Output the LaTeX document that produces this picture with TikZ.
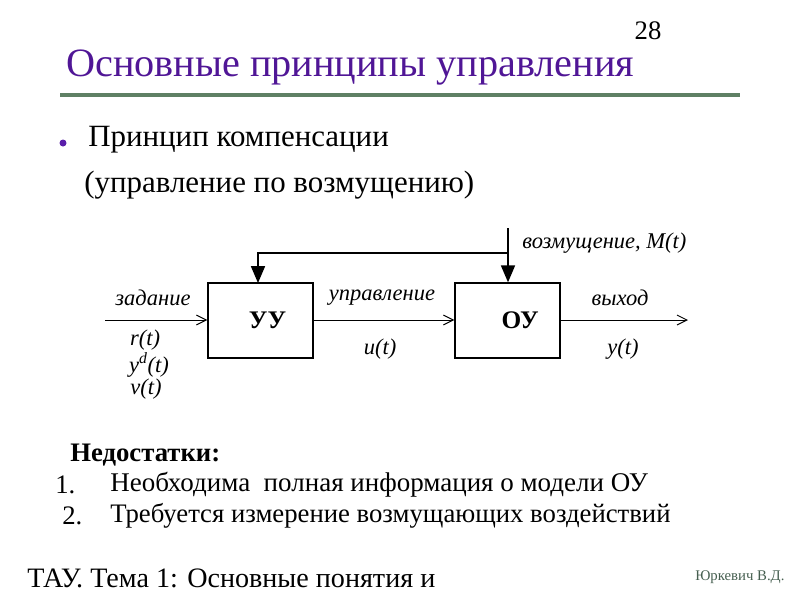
\documentclass[tikz,border=0pt]{standalone}
\usepackage{fontspec}
\setmainfont{Liberation Serif}
\usetikzlibrary{arrows.meta, positioning}
\definecolor{titlepurple}{RGB}{80,22,150}
\definecolor{rulegreen}{RGB}{95,128,100}
\definecolor{authorgray}{RGB}{70,95,80}
\definecolor{bulletpurple}{RGB}{90,30,170}
\tikzset{
  block/.style={
    rectangle, draw, line width=1pt, minimum width=2.625cm, minimum height=1.875cm,
    font=\bfseries\fontsize{18}{20}\selectfont
  },
  signal/.style={-{Straight Barb[length=7pt,width=7pt]}, line width=0.7pt},
  disturb/.style={-{Triangle[length=12pt,width=10pt]}, line width=0.9pt},
  siglabel/.style={font=\itshape\fontsize{16}{18}\selectfont, inner sep=0pt},
  bodytext/.style={font=\fontsize{22}{26}\selectfont, anchor=west, inner sep=0pt}
}

\begin{document}
\begin{tikzpicture}[x=0.025cm, y=-0.025cm]
  \useasboundingbox (0,0) rectangle (800,600);

  % header
  \node[font=\fontsize{19}{22}\selectfont, inner sep=0pt] (page) at (648,31) {28};
  \node[anchor=west, inner sep=0pt, text=titlepurple,
        font=\fontsize{28.6}{33}\selectfont] (title) at (66,68) {Основные принципы управления};
  \draw[rulegreen, line width=2.5pt] (60,95) -- (740,95);

  % principle
  \fill[bulletpurple] (63,143) circle (3.5);
  \node[bodytext] (principle) at (88,140) {Принцип компенсации};
  \node[bodytext] (kind) at (84,185) {(управление по возмущению)};

  % blocks
  \node[block] (uu) at (260.5,320.5) {\raisebox{-3pt}{\hspace*{10pt}УУ}};
  \node[block] (ou) at (507.5,320.5) {\raisebox{-3pt}{\hspace*{18pt}ОУ}};
  \coordinate (in) at (105,320);
  \coordinate (out) at (688,320);
  \coordinate (dist) at (508,228);
  \coordinate (split) at (508,253);

  \draw[signal] (in) -- (uu.west |- in);
  \draw[signal] (uu.east |- in) -- (ou.west |- in);
  \draw[signal] (ou.east |- in) -- (out);
  \draw[disturb] (dist) -- (ou.north -| dist);
  \draw[disturb] (split) -| (258,283);

  % signal labels
  \node[siglabel, anchor=west] (mlabel) at (522,243) {возмущение, M(t)};
  \node[siglabel] (zad) at (153,298) {задание};
  \node[siglabel] (upr) at (382,298) {управление};
  \node[siglabel] (vyh) at (620,298) {выход};
  \node[siglabel] (r) at (145,340) {r(t)};
  \node[siglabel] (yd) at (149,365) {y\textsuperscript{d}(t)};
  \node[siglabel] (v) at (146,389) {v(t)};
  \node[siglabel] (u) at (380,349) {u(t)};
  \node[siglabel] (y) at (623,349) {y(t)};

  % drawbacks
  \node[bodytext, font=\bfseries\fontsize{19}{22}\selectfont] (cons) at (70,455) {Недостатки:};
  \node[bodytext, font=\fontsize{19}{22}\selectfont] (n1) at (55,485) {1.};
  \node[bodytext, font=\fontsize{19.2}{22}\selectfont] (c1) at (110,485) {Необходима\ \ полная информация о модели ОУ};
  \node[bodytext, font=\fontsize{19}{22}\selectfont] (n2) at (62,516) {2.};
  \node[bodytext, font=\fontsize{19}{22}\selectfont] (c2) at (110,516) {Требуется измерение возмущающих воздействий};

  % footer
  \node[bodytext, font=\fontsize{20}{23}\selectfont] (foot) at (27,578) {ТАУ. Тема 1: Основные понятия и};
  \node[bodytext, font=\fontsize{10.5}{12}\selectfont, text=authorgray] (author) at (695,577) {Юркевич В.Д.};
\end{tikzpicture}
\end{document}
